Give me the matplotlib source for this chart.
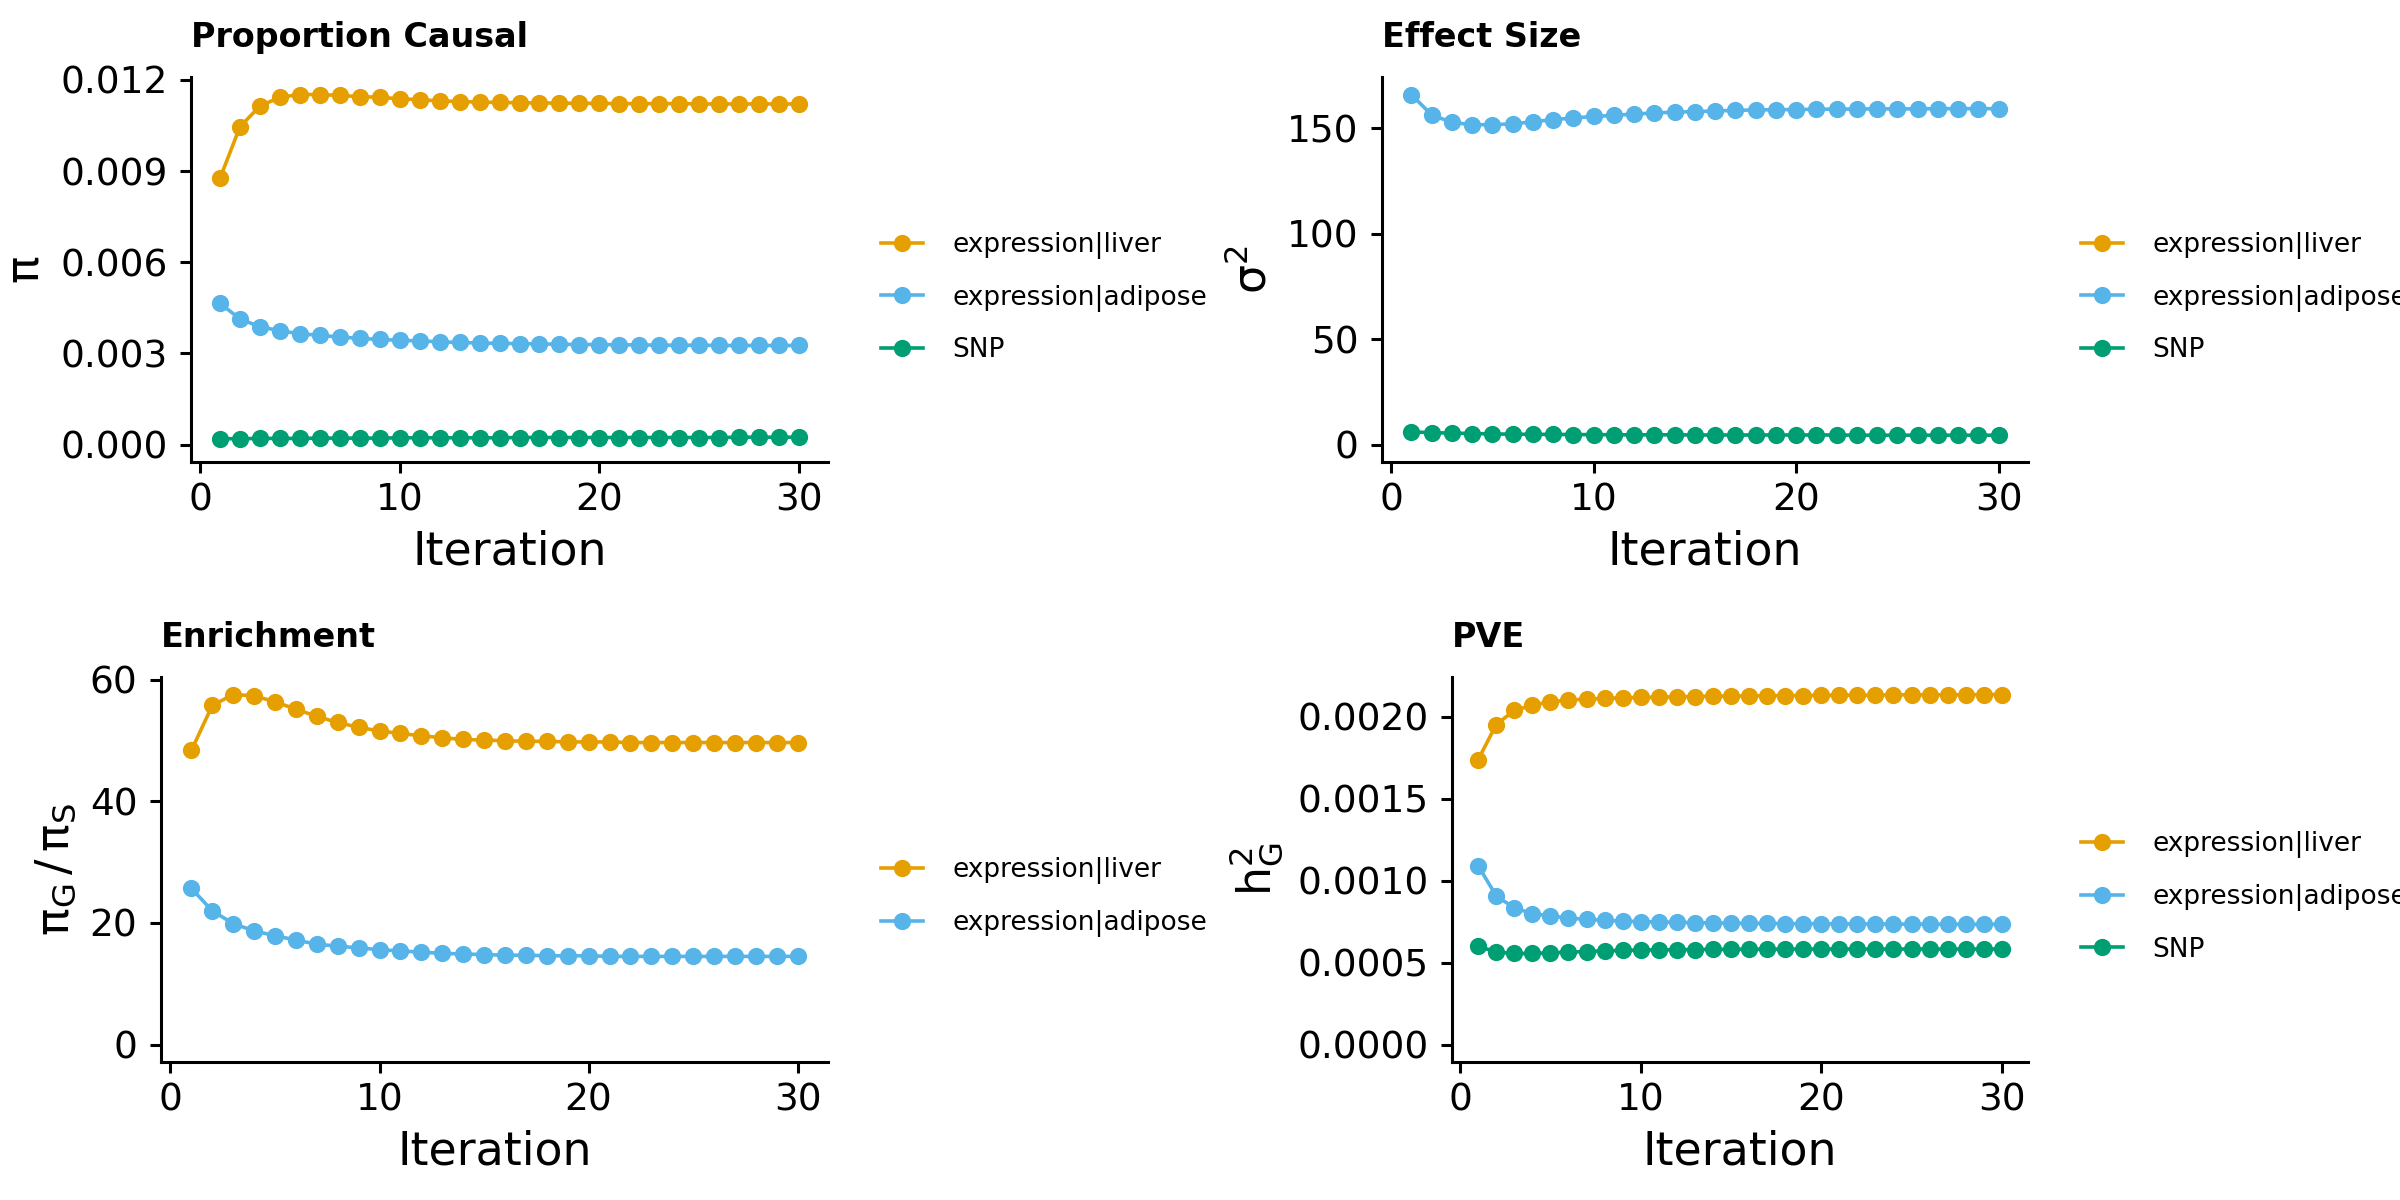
import numpy as np
import matplotlib
matplotlib.use('Agg')
import matplotlib.pyplot as plt
from matplotlib.ticker import FormatStrFormatter

# dados
iteracao = list(range(1, 31))

pi_liver = [0.00876, 0.01046, 0.01114, 0.01143, 0.01152, 0.01152, 0.01149, 0.01145, 0.01143, 0.01138,
            0.01135, 0.01131, 0.01129, 0.01127, 0.01126, 0.01125, 0.01124, 0.01124, 0.01123, 0.01123,
            0.01122, 0.01122, 0.01122, 0.01122, 0.01121, 0.01121, 0.01121, 0.01121, 0.01121, 0.01121]
pi_adipose = [0.00465, 0.00413, 0.00388, 0.00374, 0.00365, 0.00359, 0.00354, 0.00349, 0.00346, 0.00343,
              0.00341, 0.00338, 0.00336, 0.00334, 0.00333, 0.00332, 0.00331, 0.00330, 0.00329, 0.00329,
              0.00328, 0.00328, 0.00327, 0.00327, 0.00327, 0.00326, 0.00326, 0.00326, 0.00326, 0.00326]
pi_snp = [0.00019, 0.00019, 0.00020, 0.00020, 0.00020, 0.00021, 0.00021, 0.00021, 0.00021, 0.00022,
          0.00022, 0.00022, 0.00022, 0.00022, 0.00022, 0.00023, 0.00023, 0.00023, 0.00023, 0.00023,
          0.00023, 0.00023, 0.00023, 0.00023, 0.00023, 0.00023, 0.00024, 0.00024, 0.00024, 0.00024]

sigma2_liver = []  # aparece so na legenda
sigma2_adipose = [165.9, 156.3, 152.7, 151.6, 151.6, 152.0, 153.0, 154.0, 154.8, 155.5,
                  156.0, 156.7, 157.1, 157.6, 157.8, 158.1, 158.4, 158.6, 158.7, 158.8,
                  158.9, 159.0, 159.0, 159.1, 159.1, 159.1, 159.2, 159.2, 159.2, 159.2]
sigma2_snp = [6.0, 5.6, 5.4, 5.2, 5.0, 4.9, 4.8, 4.8, 4.7, 4.7,
              4.6, 4.6, 4.6, 4.6, 4.5, 4.5, 4.5, 4.5, 4.5, 4.5,
              4.5, 4.5, 4.4, 4.4, 4.4, 4.4, 4.4, 4.4, 4.4, 4.4]

enrich_liver = [48.4, 55.8, 57.6, 57.4, 56.4, 55.2, 54.0, 53.0, 52.2, 51.6,
                51.2, 50.8, 50.5, 50.2, 50.1, 50.0, 49.9, 49.9, 49.8, 49.8,
                49.8, 49.7, 49.7, 49.7, 49.7, 49.7, 49.7, 49.7, 49.7, 49.7]
enrich_adipose = [25.7, 22.0, 19.9, 18.7, 17.9, 17.2, 16.5, 16.2, 15.9, 15.6,
                  15.4, 15.2, 15.0, 14.9, 14.8, 14.7, 14.7, 14.6, 14.6, 14.6,
                  14.5, 14.5, 14.5, 14.5, 14.5, 14.5, 14.5, 14.5, 14.5, 14.5]

pve_liver = [0.001737, 0.001951, 0.002037, 0.002069, 0.002090, 0.002100, 0.002106, 0.002110, 0.002114, 0.002116,
             0.002118, 0.002120, 0.002122, 0.002124, 0.002124, 0.002126, 0.002126, 0.002128, 0.002128, 0.002130,
             0.002130, 0.002130, 0.002130, 0.002132, 0.002132, 0.002132, 0.002132, 0.002132, 0.002134, 0.002134]
pve_adipose = [0.001090, 0.000906, 0.000833, 0.000798, 0.000784, 0.000771, 0.000763, 0.000757, 0.000753, 0.000749,
               0.000747, 0.000745, 0.000743, 0.000741, 0.000740, 0.000739, 0.000738, 0.000737, 0.000737, 0.000736,
               0.000736, 0.000735, 0.000735, 0.000734, 0.000734, 0.000734, 0.000733, 0.000733, 0.000733, 0.000733]
pve_snp = [0.000600, 0.000563, 0.000555, 0.000555, 0.000559, 0.000563, 0.000567, 0.000571, 0.000574, 0.000576,
           0.000577, 0.000578, 0.000579, 0.000580, 0.000580, 0.000581, 0.000581, 0.000581, 0.000582, 0.000582,
           0.000582, 0.000582, 0.000582, 0.000582, 0.000582, 0.000582, 0.000582, 0.000582, 0.000582, 0.000582]

nomes = ['expression|liver', 'expression|adipose', 'SNP']
cores = ['#E69F00', '#56B4E9', '#009E73']

plt.rcParams['font.family'] = 'DejaVu Sans'
plt.rcParams['mathtext.fontset'] = 'dejavusans'


def painel(fig, pos, titulo, ylabel, series, yticks, fmt, leg_pos):
    ax = fig.add_axes(pos)
    for i in range(len(series)):
        if len(series[i]) == 0:
            ax.plot([], [], color=cores[i], marker='o', ms=5.2, lw=1.3, label=nomes[i])
        else:
            ax.plot(iteracao, series[i], color=cores[i], marker='o', ms=5.2, lw=1.3,
                    mec=cores[i], label=nomes[i])

    # limites no estilo ggplot (expande 5% e inclui o zero)
    valores = [v for s in series for v in s]
    lo = min(0, min(valores))
    hi = max(valores)
    d = 0.05 * (hi - lo)
    ax.set_ylim(lo - d, hi + d)
    ax.set_xlim(1 - 0.05 * 29, 30 + 0.05 * 29)

    ax.set_xticks([0, 10, 20, 30])
    ax.set_yticks(yticks)
    ax.yaxis.set_major_formatter(FormatStrFormatter(fmt))

    for s in ['top', 'right']:
        ax.spines[s].set_visible(False)
    for s in ['left', 'bottom']:
        ax.spines[s].set_linewidth(1.1)
    ax.tick_params(axis='both', labelsize=13.5, width=1.1, length=4, colors='black')
    ax.tick_params(axis='x', pad=3.5)
    ax.tick_params(axis='y', pad=4.5)

    ax.set_xlabel('Iteration', fontsize=16.5, labelpad=4)
    ax.set_ylabel(ylabel, fontsize=16.5, labelpad=4)
    ax.set_title(titulo, loc='left', fontsize=12, fontweight='bold', pad=10.8)

    ax.legend(loc='center left', bbox_to_anchor=leg_pos, bbox_transform=fig.transFigure,
              frameon=False, fontsize=9.5, handlelength=1.6, handletextpad=1.1,
              labelspacing=0.97, borderpad=0, borderaxespad=0)
    return ax


fig = plt.figure(figsize=(12, 6), dpi=200)

painel(fig, [0.0796, 0.615, 0.2654, 0.3208], 'Proportion Causal', r'$\mathrm{\pi}$',
       [pi_liver, pi_adipose, pi_snp], [0, 0.003, 0.006, 0.009, 0.012], '%.3f', (0.367, 0.752))

painel(fig, [0.5758, 0.615, 0.2692, 0.3208], 'Effect Size', r'$\mathrm{\sigma}^2$',
       [sigma2_liver, sigma2_adipose, sigma2_snp], [0, 50, 100, 150], '%d', (0.867, 0.752))

painel(fig, [0.0671, 0.115, 0.2779, 0.3208], 'Enrichment',
       r'$\mathrm{\pi}_\mathrm{G}\,/\,\mathrm{\pi}_\mathrm{S}$',
       [enrich_liver, enrich_adipose], [0, 20, 40, 60], '%d', (0.367, 0.2525))

painel(fig, [0.605, 0.115, 0.240, 0.3208], 'PVE', r'$\mathrm{h}_\mathrm{G}^2$',
       [pve_liver, pve_adipose, pve_snp], [0, 0.0005, 0.001, 0.0015, 0.002], '%.4f', (0.867, 0.2525))

fig.savefig('out.png', dpi=200)
